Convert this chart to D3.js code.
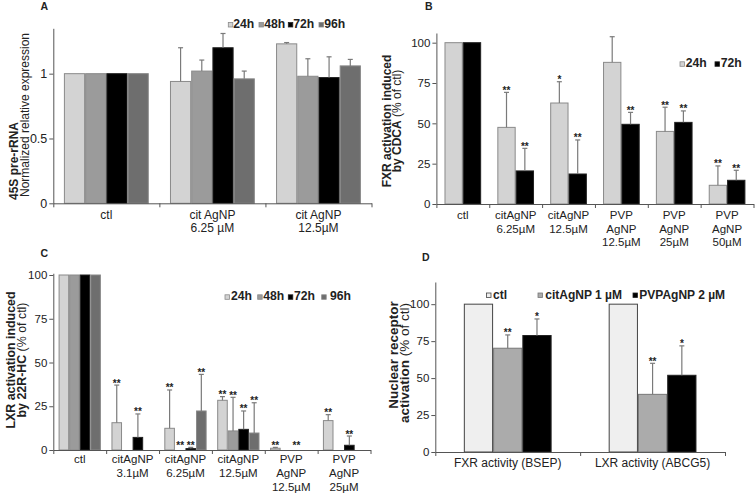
<!DOCTYPE html>
<html><head><meta charset="utf-8">
<script src="https://cdn.jsdelivr.net/npm/d3@7"></script>
<style>
body{margin:0;background:#fff;}
svg text{font-family:"Liberation Sans",Arial,sans-serif;}
</style></head>
<body><svg id="c" width="756" height="495"></svg>
<script>
// ---------- DATA ----------
// Panel A
const A_categories = [["ctl"], ["cit AgNP","6.25 µM"], ["cit AgNP","12.5µM"]];
const A_series = ["24h","48h","72h","96h"];
const A_24h = [1, 0.94, 1.23];   const A_24h_err = [0, 0.26, 0.01];
const A_48h = [1, 1.02, 0.98];   const A_48h_err = [0, 0.085, 0.135];
const A_72h = [1, 1.20, 0.97];   const A_72h_err = [0, 0.11, 0.16];
const A_96h = [1, 0.96, 1.06];   const A_96h_err = [0, 0.06, 0.05];
const A_ticks = [0, 0.5, 1];
const A_tickLabels = ["0", "0.5", "1"];

// Panel B
const B_categories = [["ctl"],["citAgNP","6.25µM"],["citAgNP","12.5µM"],["PVP","AgNP","12.5µM"],["PVP","AgNP","25µM"],["PVP","AgNP","50µM"]];
const B_series = ["24h","72h"];
const B_24h = [100, 47.5, 62.6, 87.8, 45, 11.6];
const B_24h_err = [0, 21.7, 13.2, 15.9, 15, 12];
const B_24h_stars = ["", "**", "*", "", "**", "**"];
const B_72h = [100, 20.5, 18.6, 49.4, 50.6, 14.7];
const B_72h_err = [0, 14, 21.1, 7.4, 7.1, 6.2];
const B_72h_stars = ["", "**", "**", "**", "**", "**"];
const B_ticks = [0, 25, 50, 75, 100];

// Panel C
const C_categories = [["ctl"],["citAgNP","3.1µM"],["citAgNP","6.25µM"],["citAgNP","12.5µM"],["PVP","AgNP","12.5µM"],["PVP","AgNP","25µM"]];
const C_series = ["24h","48h","72h","96h"];
const C_24h = [100, 15.6, 12.4, 28.4, 1.0, 16.8];
const C_24h_err = [0, 21.5, 21.9, 2.1, 0.5, 3.4];
const C_24h_stars = ["", "**", "**", "**", "**", "**"];
const C_48h = [100, null, 0, 10.9, null, null];
const C_48h_err = [0, null, 0, 19.2, null, null];
const C_48h_stars = ["", "", "**", "**", "", ""];
const C_72h = [100, 7.2, 0.8, 11.8, 0, 2.7];
const C_72h_err = [0, 13.4, 0.7, 10.5, 0, 5.3];
const C_72h_stars = ["", "**", "**", "**", "**", "**"];
const C_96h = [100, null, 22.3, 9.7, null, null];
const C_96h_err = [0, null, 20.9, 17.3, null, null];
const C_96h_stars = ["", "", "**", "**", "", ""];
const C_ticks = [0, 25, 50, 75, 100];

// Panel D
const D_categories = [["FXR activity (BSEP)"], ["LXR activity (ABCG5)"]];
const D_series = ["ctl", "citAgNP 1 µM", "PVPAgNP 2 µM"];
const D_ctl = [100, 100];      const D_ctl_err = [0, 0];        const D_ctl_stars = ["", ""];
const D_cit = [70.2, 39];      const D_cit_err = [9, 21];       const D_cit_stars = ["**", "**"];
const D_pvp = [78.8, 51.9];    const D_pvp_err = [11.2, 19.9];  const D_pvp_stars = ["*", "*"];
const D_ticks = [0, 25, 50, 75, 100];

// ---------- DRAW ----------
const svg = d3.select("#c");
svg.append("rect").attr("width",756).attr("height",495).attr("fill","#fff");

const LIGHT = "#d3d3d3", MID = "#9b9b9b", BLACK = "#000", DARK = "#6e6e6e";
const EDGE = "#8a8a8a", ERR = "#7a7a7a", AXIS = "#555", TXT = "#222";

function panel(cfg){
  const g = svg.append("g");
  const n = cfg.categories.length;
  const x = d3.scaleBand().domain(d3.range(n)).range([cfg.x0, cfg.x1]).padding(0);
  const step = x.bandwidth();
  const xi = d3.scaleBand().domain(cfg.series.map(s=>s.name))
      .range([step*cfg.pad, step*(1-cfg.pad)]).padding(0);
  const y = d3.scaleLinear().domain([0, cfg.max]).range([cfg.yb, cfg.yt]);

  // bars
  cfg.series.forEach(s=>{
    s.values.forEach((v,i)=>{
      if(v===null) return;
      const bx = x(i)+xi(s.name), bw = xi.bandwidth();
      if(v>0){
        g.append("rect").attr("x",bx+0.5).attr("y",y(v)).attr("width",bw-1)
          .attr("height",y(0)-y(v)).attr("fill",s.color)
          .attr("stroke",s.stroke).attr("stroke-width",1);
      }
      const e = s.errs ? s.errs[i] : 0;
      const cx = bx + bw/2;
      if(e && e>0){
        g.append("line").attr("x1",cx).attr("x2",cx).attr("y1",y(v)).attr("y2",y(v+e))
          .attr("stroke",ERR).attr("stroke-width",1.2);
        g.append("line").attr("x1",cx-2.5).attr("x2",cx+2.5).attr("y1",y(v+e)).attr("y2",y(v+e))
          .attr("stroke",ERR).attr("stroke-width",1.2);
      }
      const st = s.stars ? s.stars[i] : "";
      if(st){
        g.append("text").attr("x",cx).attr("y",Math.min(y(v+(e||0))+1.5, cfg.yb-1))
          .attr("text-anchor","middle").attr("font-size",10).attr("font-weight","bold")
          .attr("fill",TXT).text(st);
      }
    });
  });

  // y axis
  const ya = g.append("g").attr("transform",`translate(${cfg.x0},0)`)
    .call(d3.axisLeft(y).tickValues(cfg.ticks).tickFormat((d,i)=>cfg.tickLabels?cfg.tickLabels[i]:d)
      .tickSize(4).tickSizeOuter(0).tickPadding(2));
  ya.selectAll("path,line").attr("stroke",AXIS);
  ya.selectAll("text").attr("font-size",cfg.tickSize||11.5).attr("fill",TXT).attr("font-family","Liberation Sans, Arial, sans-serif");

  // x axis
  const xl = d3.scaleLinear().domain([0,n]).range([cfg.x0,cfg.x1]);
  const xa = g.append("g").attr("transform",`translate(0,${cfg.yb})`)
    .call(d3.axisBottom(xl).tickValues(d3.range(n+1)).tickFormat("").tickSize(4).tickSizeOuter(0));
  xa.selectAll("path,line").attr("stroke",AXIS);

  // category labels
  cfg.categories.forEach((lines,i)=>{
    const t = g.append("text").attr("x",x(i)+step/2).attr("y",cfg.yb+cfg.labOff)
      .attr("text-anchor","middle").attr("font-size",cfg.labSize||11.5).attr("fill",TXT);
    lines.forEach((l,k)=>{
      t.append("tspan").attr("x",x(i)+step/2).attr("dy",k===0?0:cfg.lineH).text(l);
    });
  });

  // y label
  cfg.ylab.forEach(L=>{
    const t = g.append("text").attr("transform",`translate(${L.x},${L.y}) rotate(-90)`)
      .attr("text-anchor",L.anchor||"middle").attr("font-size",L.size||12).attr("fill",TXT);
    L.parts.forEach(p=>{
      t.append("tspan").attr("font-weight",p.bold?"bold":"normal").text(p.t);
    });
  });

  // panel letter
  g.append("text").attr("x",cfg.letter[1]).attr("y",cfg.letter[2]).attr("font-size",10.5)
    .attr("font-weight","bold").attr("fill",TXT).text(cfg.letter[0]);

  // legend
  cfg.legend.forEach((it,k)=>{
    const s = cfg.series[k];
    g.append("rect").attr("x",it.sx).attr("y",cfg.legY-5.5).attr("width",4.5).attr("height",4.5)
      .attr("fill",s.color).attr("stroke",s.stroke).attr("stroke-width",0.8);
    g.append("text").attr("x",it.tx).attr("y",cfg.legY).attr("font-size",cfg.legSize||12.2)
      .attr("font-weight","bold").attr("fill",TXT).text(s.name);
  });
}

// Panel A
panel({
  categories: A_categories, x0:53.3, x1:371.5, yb:203.3, yt:28.3, max:1.35, pad:0.1,
  ticks:A_ticks, tickLabels:A_tickLabels, tickSize:12.5, labOff:15.5, lineH:13.5, labSize:12,
  series:[
    {name:A_series[0], values:A_24h, errs:A_24h_err, color:LIGHT, stroke:EDGE},
    {name:A_series[1], values:A_48h, errs:A_48h_err, color:MID, stroke:EDGE},
    {name:A_series[2], values:A_72h, errs:A_72h_err, color:BLACK, stroke:"#222"},
    {name:A_series[3], values:A_96h, errs:A_96h_err, color:DARK, stroke:"#888"}],
  ylab:[{x:18, y:200, anchor:"start", parts:[{t:"45S pre-rRNA", bold:true}]},
        {x:29, y:115, parts:[{t:"Normalized relative expression"}]}],
  letter:["A",40.5,10],
  legY:28,
  legend:[{sx:228.3,tx:233.3},{sx:259,tx:264.3},{sx:288.3,tx:293.3},{sx:319,tx:324.3}]
});

// Panel B
panel({
  categories: B_categories, x0:436.4, x1:753.5, yb:204, yt:33, max:106, pad:0.153,
  ticks:B_ticks, labOff:15, lineH:13.5,
  series:[
    {name:B_series[0], values:B_24h, errs:B_24h_err, stars:B_24h_stars, color:LIGHT, stroke:EDGE},
    {name:B_series[1], values:B_72h, errs:B_72h_err, stars:B_72h_stars, color:BLACK, stroke:"#222"}],
  ylab:[{x:391, y:121, parts:[{t:"FXR activation induced", bold:true}]},
        {x:401, y:121, parts:[{t:"by CDCA", bold:true},{t:" (% of ctl)"}]}],
  letter:["B",425,10],
  legY:67.3,
  legend:[{sx:680,tx:685.7},{sx:715,tx:720.7}]
});

// Panel C
panel({
  categories: C_categories, x0:53.3, x1:370.5, yb:450, yt:273.25, max:101, pad:0.1,
  ticks:C_ticks, labOff:12.5, lineH:14.3,
  series:[
    {name:C_series[0], values:C_24h, errs:C_24h_err, stars:C_24h_stars, color:LIGHT, stroke:EDGE},
    {name:C_series[1], values:C_48h, errs:C_48h_err, stars:C_48h_stars, color:MID, stroke:EDGE},
    {name:C_series[2], values:C_72h, errs:C_72h_err, stars:C_72h_stars, color:BLACK, stroke:"#222"},
    {name:C_series[3], values:C_96h, errs:C_96h_err, stars:C_96h_stars, color:DARK, stroke:"#888"}],
  ylab:[{x:15, y:360, size:12.4, parts:[{t:"LXR activation induced", bold:true}]},
        {x:25.5, y:360, size:12.4, parts:[{t:"by 22R-HC", bold:true},{t:" (% of ctl)"}]}],
  letter:["C",40.5,256.5],
  legY:300.3,
  legend:[{sx:225,tx:231},{sx:257.7,tx:263.3},{sx:288.3,tx:294},{sx:321.7,tx:330}]
});

// Panel D
panel({
  categories: D_categories, x0:435.3, x1:725, yb:452, yt:282, max:115, pad:0.197,
  ticks:D_ticks, labOff:15, lineH:13.5, labSize:12,
  series:[
    {name:D_series[0], values:D_ctl, errs:D_ctl_err, stars:D_ctl_stars, color:"#efefef", stroke:"#444"},
    {name:D_series[1], values:D_cit, errs:D_cit_err, stars:D_cit_stars, color:"#ababab", stroke:"#777"},
    {name:D_series[2], values:D_pvp, errs:D_pvp_err, stars:D_pvp_stars, color:BLACK, stroke:"#222"}],
  ylab:[{x:398, y:355, size:13.5, parts:[{t:"Nuclear receptor", bold:true}]},
        {x:409, y:363, size:13.5, parts:[{t:"activation", bold:true},{t:" (% of ctl)"}]}],
  letter:["D",422,260.5],
  legY:298.5, legSize:12,
  legend:[{sx:486.5,tx:493},{sx:538,tx:545.3},{sx:633,tx:639.3}]
});
</script></body></html>
